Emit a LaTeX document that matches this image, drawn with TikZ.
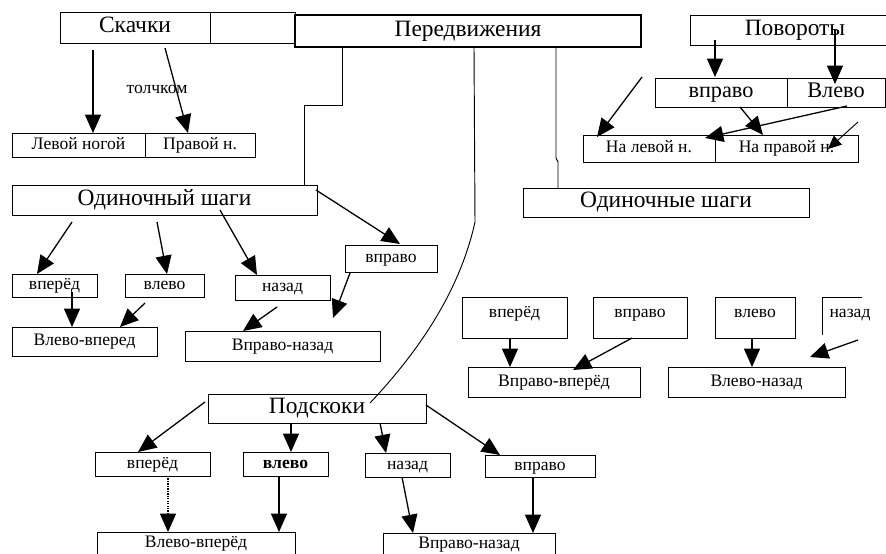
\documentclass[tikz,border=0pt]{standalone}
\usepackage{fontspec}
\setmainfont{Liberation Serif}
\usetikzlibrary{arrows.meta}
\pgfdeclarelayer{background}
\pgfsetlayers{background,main}

\begin{document}
\begin{tikzpicture}[x=0.03cm, y=-0.03cm,
					box/.style={draw=black, line width=0.6pt, rectangle, inner sep=0pt, outer sep=0pt},
					sz/.style 2 args={minimum width=#1*0.03cm, minimum height=#2*0.03cm},
					txtbig/.style={font=\fontsize{20}{22}\selectfont, text height=13pt, text depth=4pt},
					txtmid/.style={font=\fontsize{19}{21}\selectfont, text height=12.5pt, text depth=4pt},
					txtsmall/.style={font=\fontsize{15}{17}\selectfont, text height=10pt, text depth=3pt},
					txthigh/.style={txtsmall, text depth=10pt},
					arr/.style={line width=1.1pt, -{Triangle[length=5.5mm,width=4.8mm]}},
					arrsmall/.style={line width=0.8pt, -{Triangle[length=4mm,width=3.6mm]}},
					link/.style={line width=0.8pt},
					]
					\useasboundingbox (0,0) rectangle (886,553);
					\clip (0,0) rectangle (886,553);
					
					%Nodes
					\node[box,sz={150}{31},txtbig]      (skachki) at (135,27.5)   {Скачки};
					\node[box,sz={85}{31}]              (blank)   at (252.5,27.5) {};
					\node[box,sz={346}{32},txtbig,line width=2.4pt] (pered) at (468,31) {Передвижения};
					\node[box,sz={210}{30},txtbig]      (povor)   at (795,30)     {Повороты};
					\node[box,sz={132}{29},txtmid]      (vpr)     at (721,92.5)   {вправо};
					\node[box,sz={98}{29},txtmid]       (vle)     at (836,92.5)   {Влево};
					\node[box,sz={132}{27},txtsmall]    (nalev)   at (649,148.5)  {На левой н.};
					\node[box,sz={143}{27},txtsmall]    (naprav)  at (786.5,148.5) {На правой н.};
					\node[box,sz={286}{29},txtbig]      (odinR)   at (666,202.5)  {Одиночные шаги};
					\node[box,sz={133}{24},txtsmall]    (levoi)   at (78.5,145)   {Левой ногой};
					\node[box,sz={110}{24},txtsmall]    (pravoi)  at (200,145)    {Правой н.};
					\node[txtsmall]                     (tolch)   at (157,89)     {толчком};
					
					\node[box,sz={305}{30},txtbig]      (odinL)   at (164.5,200)  {Одиночный шаги};
					\node[box,sz={85}{23},txtsmall]     (vpered1) at (54.5,285.5) {вперёд};
					\node[box,sz={79}{23},txtsmall]     (vlevo1)  at (164.5,285.5) {влево};
					\node[box,sz={95}{25},txtsmall]     (nazad1)  at (282.5,287.5) {назад};
					\node[box,sz={92}{27},txtsmall]     (vpravo1) at (391,258.5)  {вправо};
					\node[box,sz={145}{29},txtsmall]    (vv1)     at (84.5,341.5) {Влево-вперед};
					\node[box,sz={195}{30},txtsmall]    (vn1)     at (282.5,346)  {Вправо-назад};
					
					\node[box,sz={105}{41},txthigh]     (vpered2) at (514.5,317.5) {вперёд};
					\node[box,sz={94}{41},txthigh]      (vpravo2) at (640,317.5)  {вправо};
					\node[box,sz={80}{41},txthigh]      (vlevo2)  at (755,317.5)  {влево};
					\node[box,draw=none,sz={56}{41},txthigh] (nazad2) at (850,317.5) {назад};
					\node[box,sz={172}{30},txtsmall]    (vpv2)    at (554,382)    {Вправо-вперёд};
					\node[box,sz={177}{30},txtsmall]    (vln2)    at (756.5,382)  {Влево-назад};
					
					\node[box,sz={218}{29},txtbig]      (podsk)   at (317,408.5)  {Подскоки};
					\node[box,sz={115}{24},txtsmall]    (vpered3) at (152.5,464)  {вперёд};
					\node[box,sz={85}{24},txtsmall]     (vlevo3)  at (285.5,464)  {\bfseries влево};
					\node[box,sz={85}{24},txtsmall]     (nazad3)  at (407.5,465)  {назад};
					\node[box,sz={110}{22},txtsmall]    (vpravo3) at (540,466)    {вправо};
					\node[box,sz={198}{22},txtsmall]    (vv3)     at (196,543)    {Влево-вперёд};
					\node[box,sz={172}{22},txtsmall]    (vn3)     at (469,544)    {Вправо-назад};
					
					\begin{pgfonlayer}{background}
					\fill[white] (0,0) rectangle (886,553);
					%Lines
					\draw[line width=0.6pt] ([shift={(0,-3)}]nazad2.south west) -- (nazad2.north west) -- ++(40,0);
					\draw[link] ([shift={(47,0)}]pered.south west) -- ++(0,58) -| ([shift={(-13,0)}]odinL.north east);
					\draw[link] ([shift={(6,0)}]pered.south) -- ++(1,175) .. controls +(-15,68) and +(50,-53) .. ([shift={(-56,9)}]podsk.north east);
					\draw[link] ([shift={(-85,0)}]pered.south east) -- ++(0,111) -- ++(2,4) -- ([shift={(35,0)}]odinR.north west);
					
					\draw[arr] ([shift={(33,7)}]skachki.south west) -- ([shift={(81,0)}]levoi.north west);
					\draw[arr] ([shift={(105,5)}]skachki.south west) -- ([shift={(43,0)}]pravoi.north west);
					
					\draw[arr] ([shift={(25,-5)}]povor.south west) -- ([shift={(60,-1)}]vpr.north west);
					\draw[arr] ([shift={(145,-15)}]povor.south west) -- ([shift={(48,6)}]vle.north west);
					\draw[arr] ([shift={(-13,-1)}]vpr.north west) -- ([shift={(14,2)}]nalev.north west);
					\draw[arr] ([shift={(85,0)}]vpr.south west) -- ([shift={(48,0)}]naprav.north west);
					\draw[arr] ([shift={(60,-1)}]vle.south west) -- ([shift={(-10,3)}]nalev.north east);
					\draw[arrsmall] ([shift={(0,-13)}]naprav.north east) -- ([shift={(-30,14)}]naprav.north east);
					
					\draw[arr] ([shift={(-1,5)}]odinL.north east) -- ([shift={(55,-1)}]vpravo1.north west);
					\draw[arr] ([shift={(60,7)}]odinL.south west) -- ([shift={(25,0)}]vpered1.north west);
					\draw[arr] ([shift={(145,7)}]odinL.south west) -- ([shift={(42,0)}]vlevo1.north west);
					\draw[arr] ([shift={(208,-5)}]odinL.south west) -- ([shift={(22,0)}]nazad1.north west);
					\draw[arr] ([shift={(60,-5)}]vpered1.south west) -- ([shift={(60,0)}]vv1.north west);
					\draw[arr] ([shift={(20,6)}]vlevo1.south west) -- ([shift={(-37,0)}]vv1.north east);
					\draw[arr] ([shift={(42,7)}]nazad1.south west) -- ([shift={(58,0)}]vn1.north west);
					\draw[arr] ([shift={(5,1)}]vpravo1.south west) -- ([shift={(-47,-13)}]vn1.north east);
					
					\draw[arr] ([shift={(48,0)}]vpered2.south west) -- ([shift={(42,0)}]vpv2.north west);
					\draw[arr] ([shift={(39,0)}]vpravo2.south west) -- ([shift={(105,3)}]vpv2.north west);
					\draw[arr] ([shift={(37,0)}]vlevo2.south west) -- ([shift={(84,0)}]vln2.north west);
					\draw[arr] ([shift={(36,2)}]nazad2.south west) -- ([shift={(-35,-10)}]vln2.north east);
					
					\draw[arr] ([shift={(-3,8)}]podsk.north west) -- ([shift={(43,0)}]vpered3.north west);
					\draw[arr] ([shift={(83,0)}]podsk.south west) -- ([shift={(48,0)}]vlevo3.north west);
					\draw[arr] ([shift={(172,0)}]podsk.south west) -- ([shift={(21,0)}]nazad3.north west);
					\draw[arr] ([shift={(0,11)}]podsk.north east) -- ([shift={(15,0)}]vpravo3.north west);
					\draw[arr,densely dotted] ([shift={(73,0)}]vpered3.south west) -- ([shift={(71,0)}]vv3.north west);
					\draw[arr] ([shift={(36,0)}]vlevo3.south west) -- ([shift={(-16,0)}]vv3.north east);
					\draw[arr] ([shift={(37,0)}]nazad3.south west) -- ([shift={(30,0)}]vn3.north west);
					\draw[arr] ([shift={(48,0)}]vpravo3.south west) -- ([shift={(-22,0)}]vn3.north east);
					\end{pgfonlayer}
				\end{tikzpicture}
\end{document}
